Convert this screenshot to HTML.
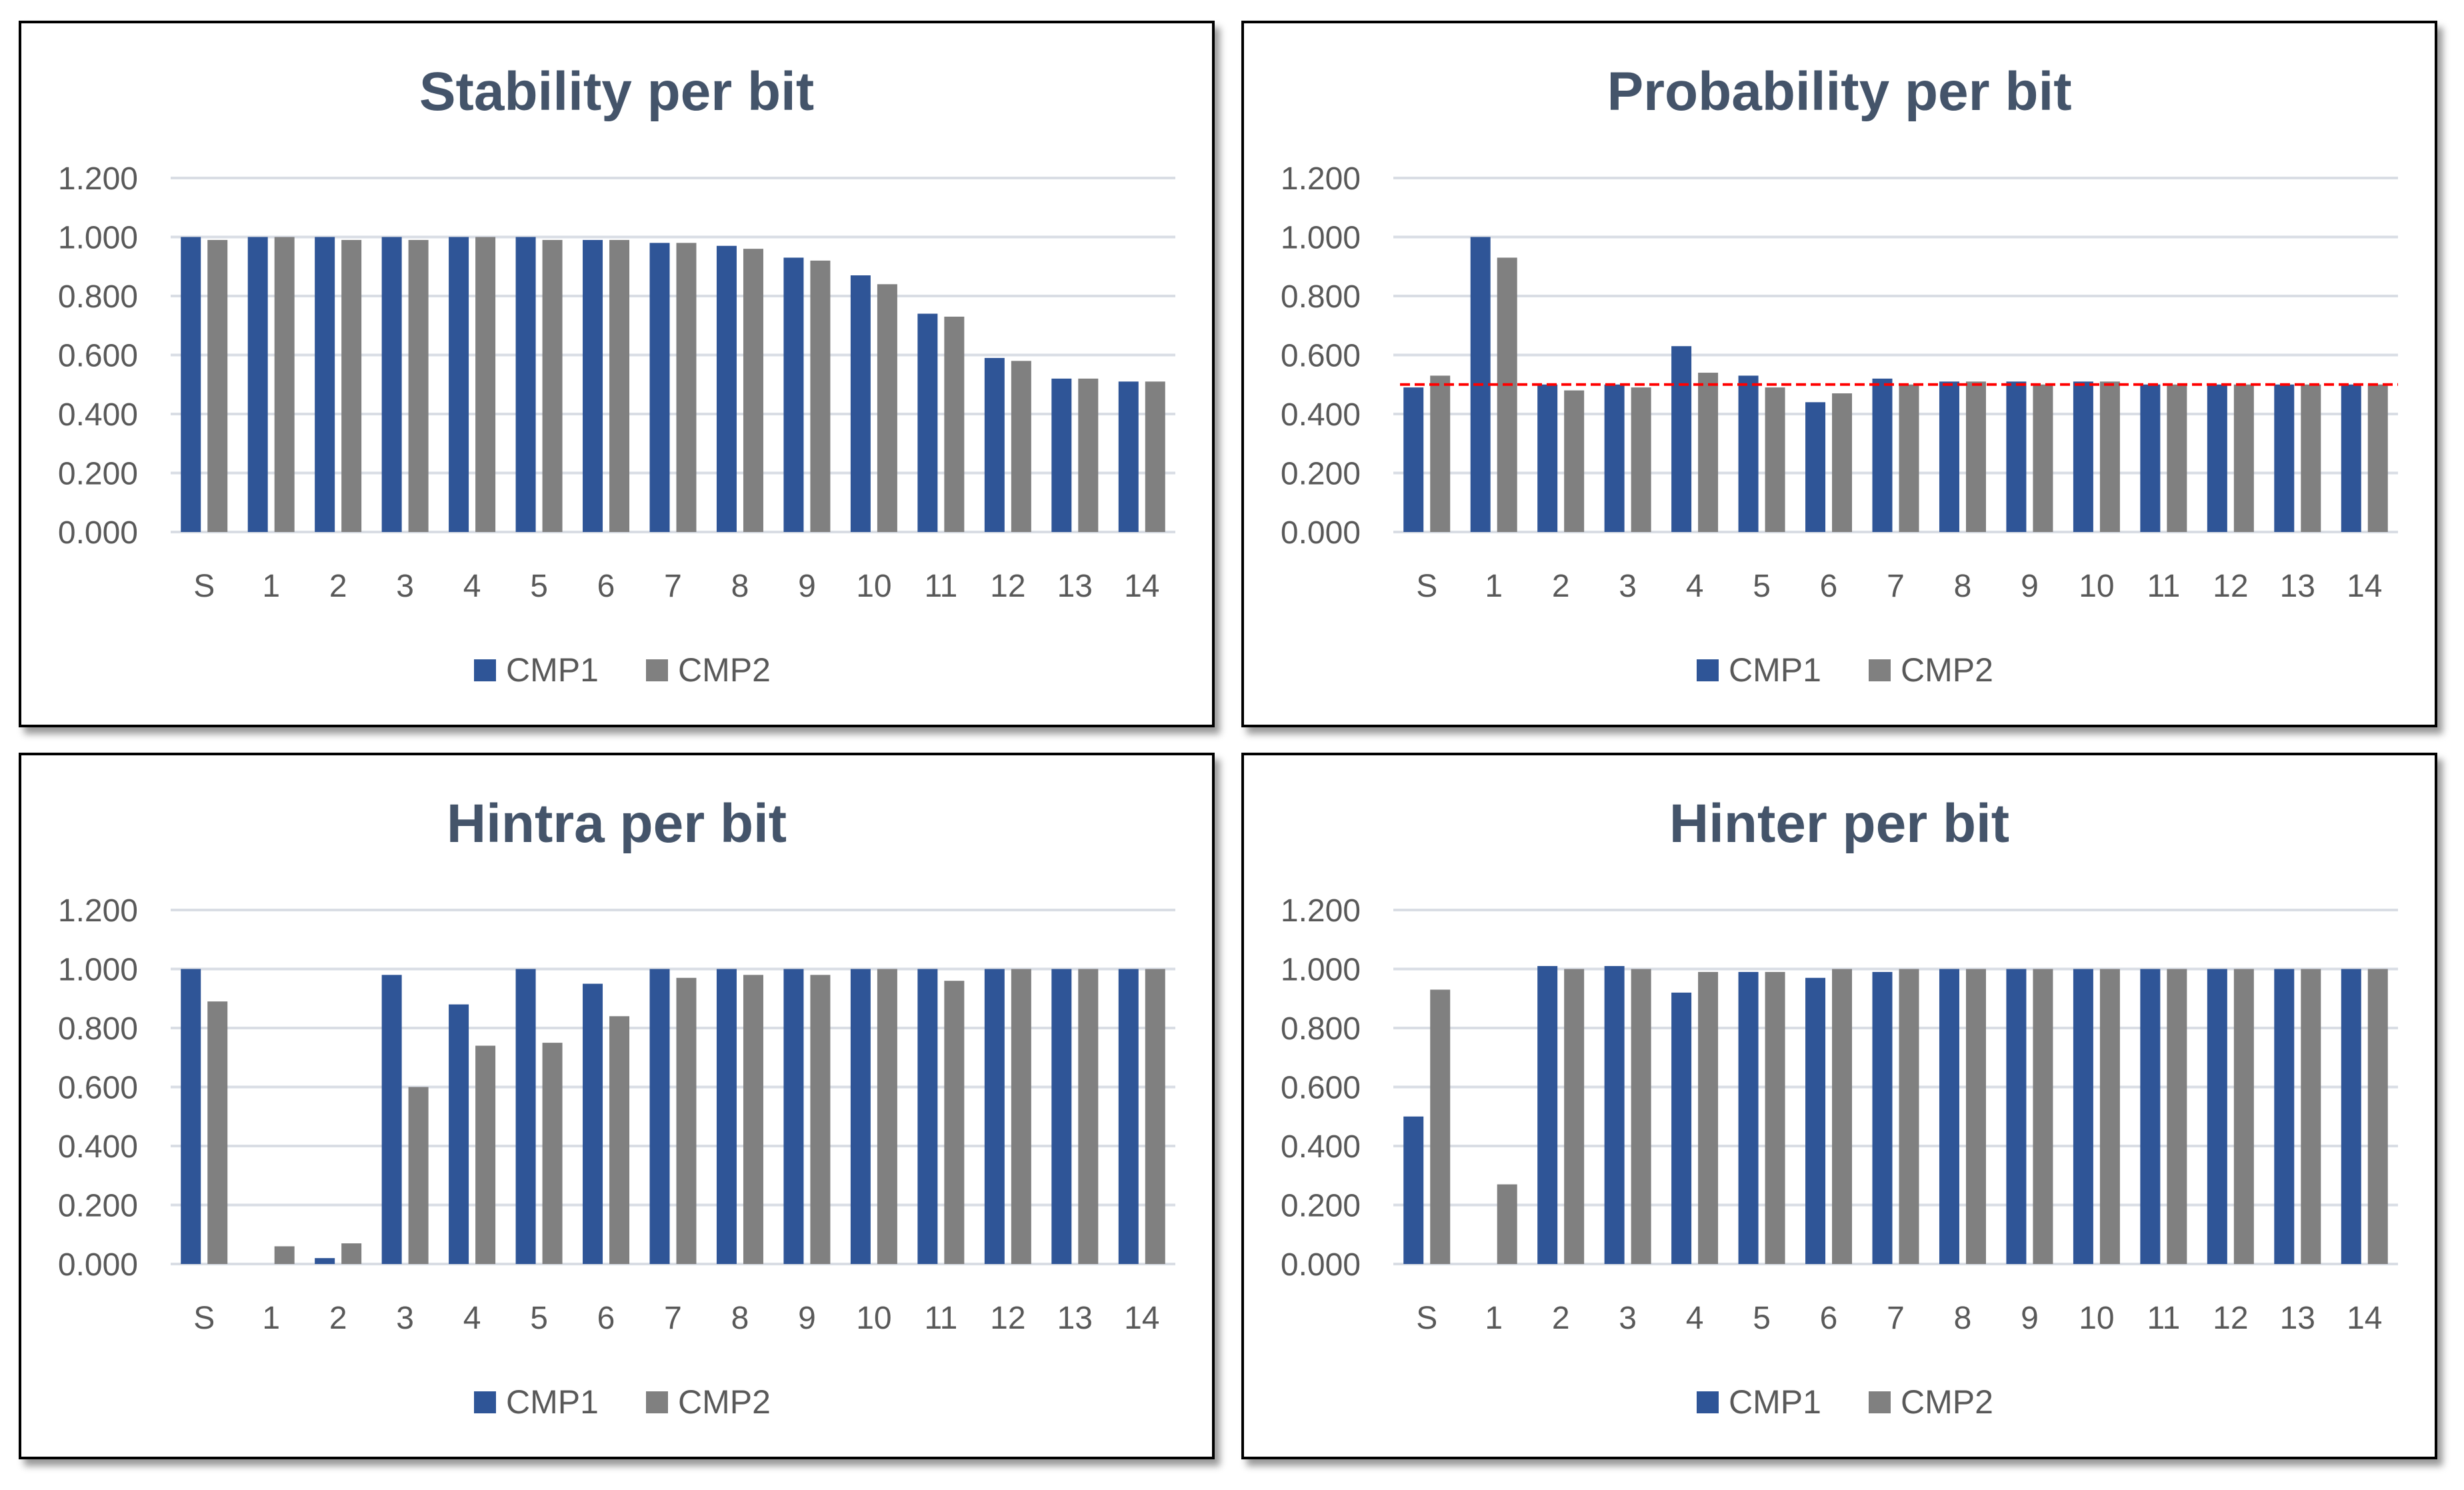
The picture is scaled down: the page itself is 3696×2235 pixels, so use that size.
<!DOCTYPE html>
<html><head><meta charset="utf-8"><style>
html,body{margin:0;padding:0;background:#fff;}
body{width:3696px;height:2235px;position:relative;overflow:hidden;font-family:"Liberation Sans Narrow","Liberation Sans",sans-serif;}
.panel{position:absolute;width:1786px;height:1052px;border:4px solid #000;background:#fff;box-shadow:8px 10px 10px #9a9a9a;}
svg{position:absolute;left:0;top:0;}
</style></head><body>
<div class="panel" id="p0" style="left:28px;top:31px"></div>
<div class="panel" id="p1" style="left:1862px;top:31px"></div>
<div class="panel" id="p2" style="left:28px;top:1129px"></div>
<div class="panel" id="p3" style="left:1862px;top:1129px"></div>
<script>
var categories = ["S","1","2","3","4","5","6","7","8","9","10","11","12","13","14"];
var yTicks = [0,0.2,0.4,0.6,0.8,1.0,1.2];
var yTickLabels = ["0.000","0.200","0.400","0.600","0.800","1.000","1.200"];
var titles = ["Stability per bit","Probability  per bit","Hintra per bit","Hinter per bit"];
var seriesNames = ["CMP1","CMP2"];
var stabilityCMP1 = [1,1,1,1,1,1,0.99,0.98,0.97,0.93,0.87,0.74,0.59,0.52,0.51];
var stabilityCMP2 = [0.99,1,0.99,0.99,1,0.99,0.99,0.98,0.96,0.92,0.84,0.73,0.58,0.52,0.51];
var probabilityCMP1 = [0.49,1.0,0.50,0.50,0.63,0.53,0.44,0.52,0.51,0.51,0.51,0.50,0.50,0.50,0.50];
var probabilityCMP2 = [0.53,0.93,0.48,0.49,0.54,0.49,0.47,0.50,0.51,0.50,0.51,0.50,0.50,0.50,0.50];
var hintraCMP1 = [1.0,0,0.02,0.98,0.88,1.0,0.95,1.0,1.0,1.0,1.0,1.0,1.0,1.0,1.0];
var hintraCMP2 = [0.89,0.06,0.07,0.60,0.74,0.75,0.84,0.97,0.98,0.98,1.0,0.96,1.0,1.0,1.0];
var hinterCMP1 = [0.50,0,1.01,1.01,0.92,0.99,0.97,0.99,1,1,1,1,1,1,1];
var hinterCMP2 = [0.93,0.27,1.0,1.0,0.99,0.99,1,1,1,1,1,1,1,1,1];
var refLine = 0.5;

var NS="http://www.w3.org/2000/svg";
var colors=["#2f5597","#808080"];
var PL=224, PR=1731, PT=232, PB=763, YMAX=1.2;
function yScale(v){return PB-(v/YMAX)*(PB-PT);}
function xCenter(i){var w=(PR-PL)/categories.length;return PL+w*(i+0.5);}
function mk(tag,attrs,parent){var e=document.createElementNS(NS,tag);for(var k in attrs)e.setAttribute(k,attrs[k]);parent.appendChild(e);return e;}
function draw(pid,title,s1,s2,withRef,slug){
  var svg=mk("svg",{width:1786,height:1052},document.getElementById(pid));
  
  
  var t=mk("text",{x:893,y:130,"text-anchor":"middle","font-size":"82","font-weight":"bold",fill:"#44546a"},svg);
  t.textContent=title;
  
  
  yTicks.forEach(function(v,i){
    var g=mk("line",{x1:PL,x2:PR,y1:yScale(v),y2:yScale(v),stroke:"#d9dde4","stroke-width":4},svg);
    
    
    var l=mk("text",{x:175,y:yScale(v)+17,"text-anchor":"end","font-size":"48",fill:"#595959"},svg);
    l.textContent=yTickLabels[i];
    
    
  });
  categories.forEach(function(c,i){
    var cx=xCenter(i);
    [s1,s2].forEach(function(s,k){
      var y=yScale(s[i]);
      var r=mk("rect",{x:k==0?cx-35:cx+5,y:y,width:30,height:PB-y,fill:colors[k]},svg);
      
      
    });
    var xl=mk("text",{x:cx,y:860,"text-anchor":"middle","font-size":"48",fill:"#595959"},svg);
    xl.textContent=c;
    
    
  });
  if(withRef){
    var rl=mk("line",{x1:PL+10,x2:PR,y1:yScale(refLine),y2:yScale(refLine),stroke:"#ff0000","stroke-width":4,"stroke-dasharray":"15 7"},svg);
    
    
  }
  var lx=[679,937];
  seriesNames.forEach(function(n,k){
    var sq=mk("rect",{x:lx[k],y:954,width:33,height:33,fill:colors[k]},svg);
    
    
    var lt=mk("text",{x:lx[k]+48,y:987,"font-size":"50",fill:"#595959"},svg);
    lt.textContent=n;
    
    
  });
}
draw("p0",titles[0],stabilityCMP1,stabilityCMP2,false,"stability");
draw("p1",titles[1],probabilityCMP1,probabilityCMP2,true,"probability");
draw("p2",titles[2],hintraCMP1,hintraCMP2,false,"hintra");
draw("p3",titles[3],hinterCMP1,hinterCMP2,false,"hinter");
</script>
</body></html>
